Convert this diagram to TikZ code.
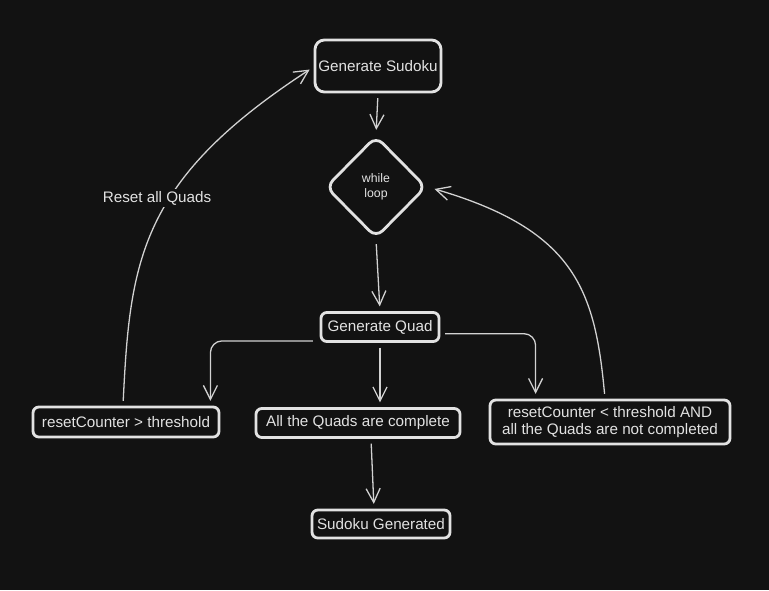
\documentclass[tikz,border=0pt]{standalone}
\usepackage{fontspec}
\setmainfont{Liberation Sans}
\usetikzlibrary{shapes.geometric, positioning, arrows.meta}
\definecolor{bg}{HTML}{121212}
\definecolor{ink}{HTML}{E2E2E2}
\definecolor{wire}{HTML}{D2D2D2}

\begin{document}
\begin{tikzpicture}[
    x = 0.03cm, y = -0.03cm,
    > = {Straight Barb[length=12pt, width=12pt]},
    box/.style={rectangle, draw=ink, line width=2.4pt, rounded corners=5pt, text=ink,
        inner sep=0pt, font=\fontsize{13}{15}\selectfont, align=center},
    cond/.style={diamond, draw=ink, line width=2.4pt, rounded corners=8pt, text=ink,
        inner sep=0pt, font=\fontsize{10.5}{12.5}\selectfont, align=center},
    flow/.style={->, draw=wire, line width=1.1pt, shorten > = 4pt, shorten < = 4pt},
    lbl/.style={fill=bg, text=ink, inner sep=2pt, font=\fontsize{13}{15}\selectfont}
]
    \fill[bg] (0,0) rectangle (769,590);
    \useasboundingbox (0,0) rectangle (769,590);

    % boxes
    \node[box, rounded corners=8pt, minimum width=3.78cm, minimum height=1.56cm] (gensud) at (378,66) {Generate Sudoku};
    \node[cond, minimum width=3.02cm, minimum height=3.06cm] (loop) at (376,187) {while\\loop};
    \node[box, minimum width=3.54cm, minimum height=0.87cm] (genquad) at (380,327) {Generate Quad};
    \node[box, minimum width=5.58cm, minimum height=0.9cm] (overcap) at (126,422) {resetCounter > threshold};
    \node[box, minimum width=6.12cm, minimum height=0.87cm] (complete) at (358,423) {All the Quads are complete};
    \node[box, minimum width=7.2cm, minimum height=1.32cm] (retry) at (610,422) {resetCounter < threshold AND\\all the Quads are not completed};
    \node[box, minimum width=4.14cm, minimum height=0.84cm] (done) at (381,524) {Sudoku Generated};

    % straight connectors
    \draw[flow] (gensud.south) -- (loop.north);
    \draw[flow] (loop.south) -- (genquad.north);
    \draw[flow] (genquad.south) -- (genquad.south |- complete.north);
    \draw[flow] ([xshift=0.39cm]complete.south) -- ([xshift=-0.21cm]done.north);
    \draw[flow, rounded corners=10pt] ([xshift=-0.06cm, yshift=0.06cm]genquad.south west) -| ([xshift=-0.3cm]overcap.north east);
    \draw[flow, rounded corners=10pt] ([yshift=-0.2cm]genquad.east) -| ([xshift=1.41cm]retry.north west);

    % loops back
    \draw[flow] ([xshift=-0.09cm]overcap.north) .. controls (130,260) and (140,180) .. ([yshift=-0.03cm]gensud.west);
    \node[lbl] (resetlbl) at (157,198) {Reset all Quads};
    \draw[flow, shorten > = 6pt] ([xshift=-0.15cm]retry.north) .. controls (595,290) and (575,230) .. (loop.east);
\end{tikzpicture}
\end{document}
